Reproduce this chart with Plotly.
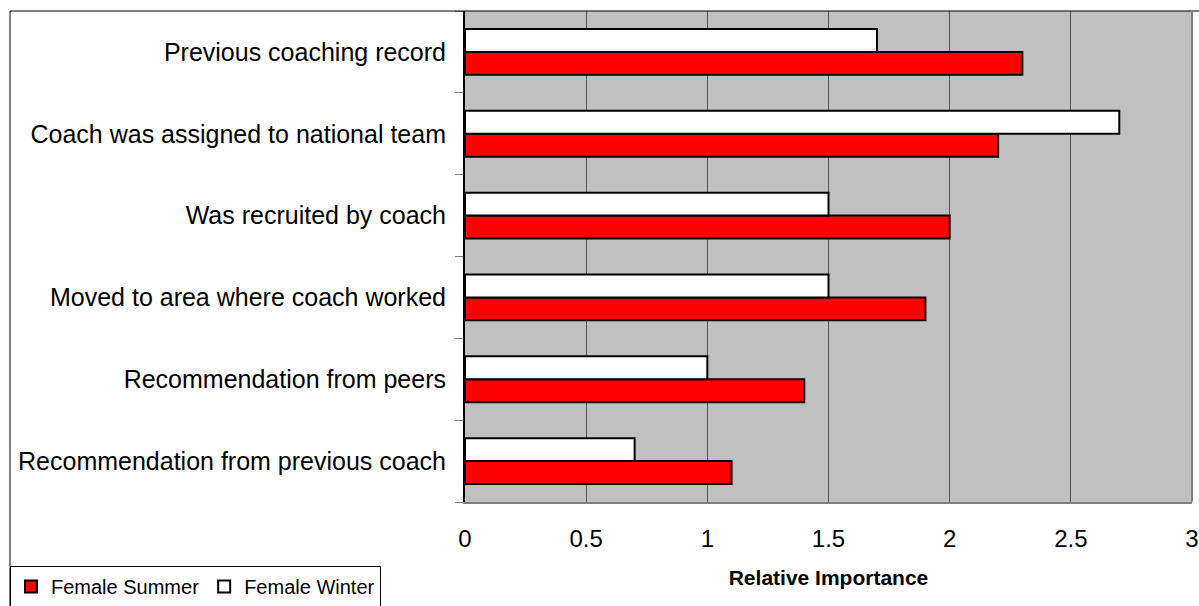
import plotly.graph_objects as go

categories = [
    "Recommendation from previous coach",
    "Recommendation from peers",
    "Moved to area where coach worked",
    "Was recruited by coach",
    "Coach was assigned to national team",
    "Previous coaching record",
]
female_summer = [1.1, 1.4, 1.9, 2.0, 2.2, 2.3]
female_winter = [0.7, 1.0, 1.5, 1.5, 2.7, 1.7]
x_ticks = [0, 0.5, 1, 1.5, 2, 2.5, 3]
x_tick_labels = ["0", "0.5", "1", "1.5", "2", "2.5", "3"]

FONT = "Liberation Sans, Arial, sans-serif"

fig = go.Figure()
fig.add_trace(go.Bar(
    y=categories, x=female_summer, orientation="h", name="Female Summer",
    marker=dict(color="#FF0000", line=dict(color="black", width=2)),
))
fig.add_trace(go.Bar(
    y=categories, x=female_winter, orientation="h", name="Female Winter",
    marker=dict(color="#FFFFFF", line=dict(color="black", width=2)),
))

W, H = 1199, 606
L, R, T, B = 465, 1192, 11, 502
pw, ph = R - L, B - T


def px_x(x):
    return (x - L) / pw


def px_y(y):
    return (B - y) / ph


fig.update_layout(
    width=W, height=H,
    margin=dict(l=L, r=W - R, t=T, b=H - B, pad=0, autoexpand=False),
    paper_bgcolor="white",
    plot_bgcolor="#C0C0C0",
    barmode="group",
    bargap=0.44,
    bargroupgap=0,
    font=dict(family=FONT, color="black"),
    showlegend=True,
    legend=dict(
        orientation="h",
        x=px_x(10), y=px_y(566), xanchor="left", yanchor="top",
        bordercolor="black", borderwidth=1, bgcolor="white",
        font=dict(size=20, family=FONT),
        traceorder="normal",
        itemwidth=30,
        tracegroupgap=0,
    ),
    xaxis=dict(
        range=[0, 3],
        tickvals=x_ticks, ticktext=x_tick_labels,
        showgrid=True, gridcolor="#555555", gridwidth=1,
        zeroline=False,
        showline=True, linecolor="#808080", linewidth=2,
        ticks="", ticklabelstandoff=14,
        tickfont=dict(size=24, family=FONT),
        title=dict(text="<b>Relative Importance</b>", font=dict(size=21, family=FONT), standoff=20),
        automargin=False,
        fixedrange=True,
    ),
    yaxis=dict(
        categoryorder="array", categoryarray=categories,
        showline=True, linecolor="black", linewidth=2,
        ticks="outside", ticklen=8, tickcolor="#808080", tickwidth=1,
        tickson="boundaries",
        ticklabelstandoff=12,
        tickfont=dict(size=25, family=FONT),
        showgrid=False,
        automargin=False,
        fixedrange=True,
    ),
    shapes=[
        # outer chart border (left and top)
        dict(type="line", xref="paper", yref="paper", x0=px_x(10), x1=px_x(10), y0=px_y(11), y1=px_y(606),
             line=dict(color="black", width=1)),
        dict(type="line", xref="paper", yref="paper", x0=px_x(10), x1=px_x(1199), y0=px_y(11), y1=px_y(11),
             line=dict(color="black", width=1)),
        # plot area right border
        dict(type="line", xref="paper", yref="paper", x0=1, x1=1, y0=0, y1=1,
             line=dict(color="#808080", width=2)),
    ],
)

fig.write_html(
    "out.html",
    config={"displayModeBar": False},
    post_script="document.body.style.margin='0';document.body.style.overflow='hidden';",
)
